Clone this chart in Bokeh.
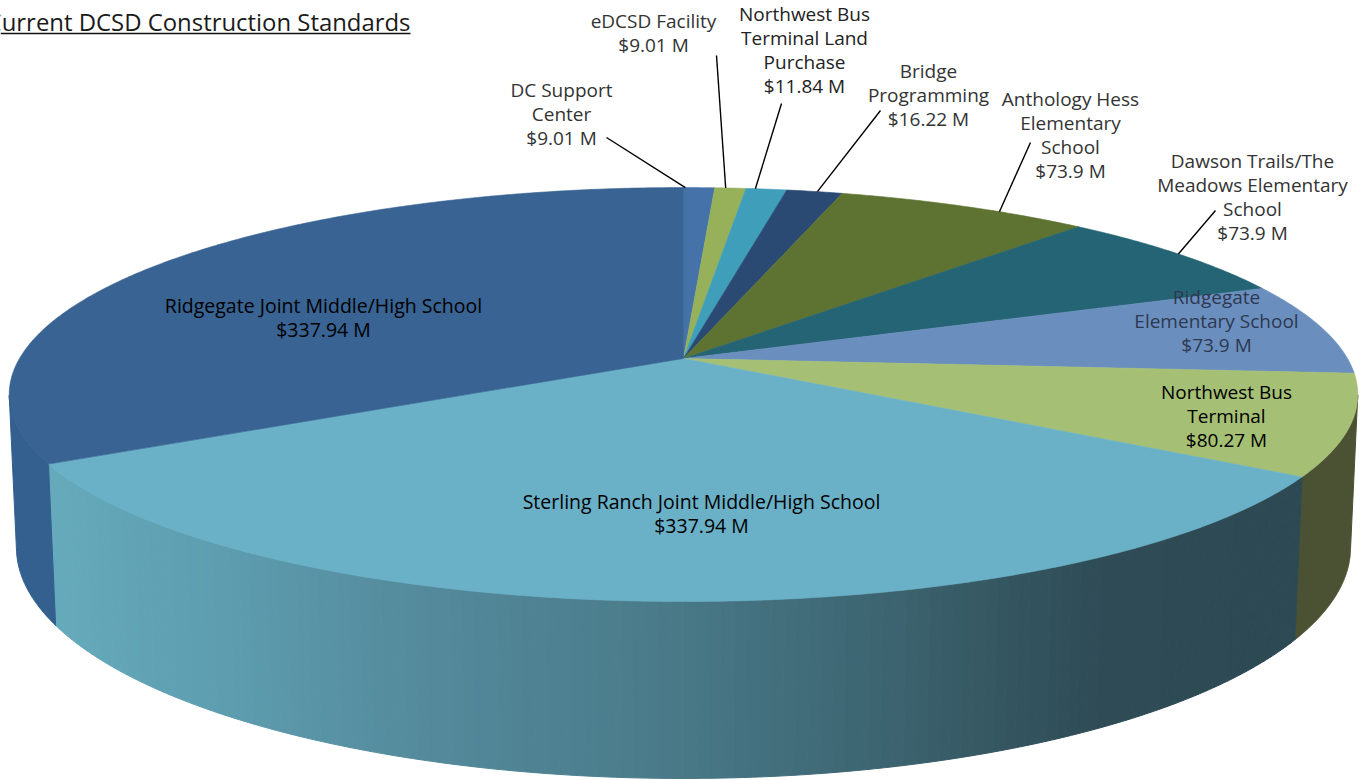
import numpy as np
from bokeh.plotting import figure
from bokeh.models import Range1d, ColumnDataSource
from bokeh.core.properties import value
from bokeh.embed import file_html
from bokeh.resources import INLINE

title = "Current DCSD Construction Standards"
names = ["DC Support\nCenter", "eDCSD Facility", "Northwest Bus\nTerminal Land\nPurchase",
         "Bridge\nProgramming", "Anthology Hess\nElementary\nSchool",
         "Dawson Trails/The\nMeadows Elementary\nSchool", "Ridgegate\nElementary School",
         "Northwest Bus\nTerminal", "Sterling Ranch Joint Middle/High School",
         "Ridgegate Joint Middle/High School"]
values = [9.01, 9.01, 11.84, 16.22, 73.9, 73.9, 73.9, 80.27, 337.94, 337.94]
amounts = ["$9.01 M", "$9.01 M", "$11.84 M", "$16.22 M", "$73.9 M", "$73.9 M", "$73.9 M",
           "$80.27 M", "$337.94 M", "$337.94 M"]
top_colors = ["#4573A9", "#97B15B", "#3F9FBA", "#2A4A74", "#5E7331", "#256474",
              "#6A8FBF", "#A5BF75", "#6AB1C8", "#386393"]
side_colors = [None, None, None, None, None, None, None, "#4A5233", None, "#33608F"]

# Label placement: centre x, y of first line, text colour, size
label_x = [561, 653, 804, 928, 1070, 1252, 1216, 1226, 701, 323]
label_y = [89.5, 20.5, 13.5, 70, 98.5, 160.5, 296.5, 391.5, 500.5, 304.5]
label_color = ["#333333"] * 2 + ["#222222"] + ["#333333"] * 3 + ["#2E3850", "#000000", "#000000", "#000000"]
label_size = ["19px"] * 8 + ["19.5px", "19.5px"]
# Leaders: start near the label, end at a fraction of the way along the slice rim
leader_idx = [0, 1, 2, 3, 4, 5]
leader_x = [606, 716, 781, 880, 1030, 1215]
leader_y = [137, 55, 103, 110, 142, 210]
leader_frac = [0.06, 0.35, 0.23, 0.55, 0.648, 0.495]

# Wall gradient of the big front slice (x position -> colour)
grad_x = [47, 250, 400, 650, 900, 1000, 1100, 1300]
grad_rgb = np.array([[0x66, 0xAB, 0xBC], [0x5C, 0x9B, 0xAD], [0x55, 0x8C, 0x9E], [0x4B, 0x7C, 0x8B],
                     [0x3C, 0x63, 0x6F], [0x35, 0x57, 0x62], [0x2F, 0x4C, 0x57], [0x2D, 0x4A, 0x54]])

# Perspective model of the disc
CX, CY, R, B, K, C, M = 683.0, 358.0, 664.0, 200.7, 0.174, 150.6, 0.0105


def project(theta, z=0.0):
    """theta in radians, clockwise from the far point; z=0 top face, z=1 bottom face."""
    x, y = np.sin(theta), -np.cos(theta)
    w = 1 - K * y + M * z
    return CX + R * x / w, CY + (B * y + C * z) / w


total = sum(values)
edges = np.radians(np.concatenate([[0], np.cumsum(values)]) / total * 360)

p = figure(width=1362, height=780, x_range=Range1d(0, 1362), y_range=Range1d(780, 0),
           output_backend="svg", toolbar_location=None, min_border=0, margin=(0, 0, 0, 0))
p.axis.visible = False
p.grid.visible = False
p.outline_line_color = None
p.background_fill_color = "#FFFFFF"

# Side walls
xs, ys, cols = [], [], []
for i, col in enumerate(side_colors):
    a0, a1 = edges[i], edges[i + 1]
    if i == 8:
        ts = np.linspace(a0, a1, int(np.degrees(a1 - a0) / 0.9) + 1)
        for t0, t1 in zip(ts[:-1], ts[1:]):
            tt = np.linspace(t0, t1, 3)
            xt, yt = project(tt)
            xb, yb = project(tt, 1.0)
            xs.append(list(xt) + list(xb[::-1]))
            ys.append(list(yt) + list(yb[::-1]))
            rgb = [int(np.interp(xt.mean(), grad_x, grad_rgb[:, c])) for c in range(3)]
            cols.append("#%02X%02X%02X" % tuple(rgb))
    elif col is not None:
        ts = np.linspace(a0, a1, 200)
        ts = ts[-np.cos(ts) >= K]
        xt, yt = project(ts)
        xb, yb = project(ts, 1.0)
        xs.append(list(xt) + list(xb[::-1]))
        ys.append(list(yt) + list(yb[::-1]))
        cols.append(col)
p.patches(xs, ys, fill_color=cols, line_color=cols, line_width=1)

# Top face
xs, ys = [], []
for i in range(len(values)):
    ts = np.linspace(edges[i], edges[i + 1], max(3, int(np.degrees(edges[i + 1] - edges[i]) * 2)))
    xt, yt = project(ts)
    xs.append([CX] + list(xt))
    ys.append([CY] + list(yt))
p.patches(xs, ys, fill_color=top_colors, line_color=top_colors, line_width=0.6)

# Leaders
for k, i in enumerate(leader_idx):
    th = edges[i] + leader_frac[k] * (edges[i + 1] - edges[i])
    ex, ey = project(th)
    p.line([leader_x[k], float(ex)], [leader_y[k], float(ey)], line_color="#000000", line_width=1.4)

# Labels
LH = 24
tx, ty, tt, tc, ts_ = [], [], [], [], []
for i in range(len(names)):
    lines = names[i].split("\n") + [amounts[i]]
    for j, s in enumerate(lines):
        tx.append(label_x[i])
        ty.append(label_y[i] + j * LH)
        tt.append(s)
        tc.append(label_color[i])
        ts_.append(label_size[i])
src = ColumnDataSource(dict(x=tx, y=ty, t=tt, c=tc, s=ts_))
FONT = value("Open Sans")
p.text("x", "y", text="t", source=src, text_color="c", text_font=FONT, text_font_size="s",
       text_align="center", text_baseline="middle")

# Title
p.text([410], [20.5], text=[title], text_font=FONT, text_font_size="23.9px", text_color="#1a1a1a",
       text_align="right", text_baseline="middle")
p.line([0, 410], [33, 33], line_color="#111111", line_width=1.5)

open("out.html", "w").write(file_html(p, INLINE))
